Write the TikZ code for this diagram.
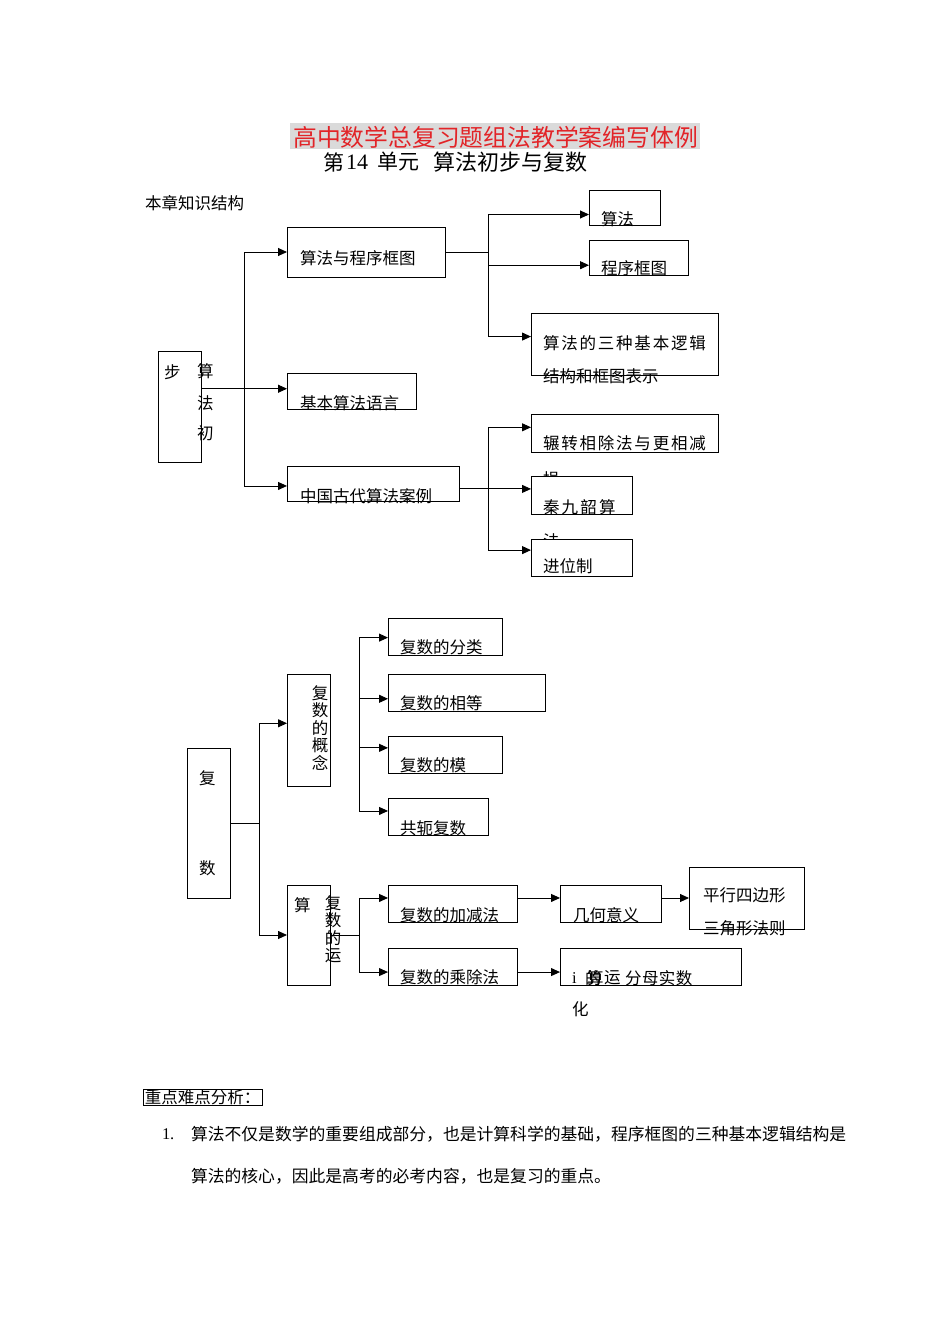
\documentclass[tikz,border=0pt]{standalone}
\usepackage{fontspec}
\setmainfont{Noto Sans CJK SC}
\newfontfamily\latf{Liberation Serif}
\usetikzlibrary{arrows.meta,calc}
\definecolor{titlered}{RGB}{226,36,40}
\definecolor{hlgray}{RGB}{218,218,218}
\newcommand\bodyf{\fontsize{16.5}{17.5}\selectfont}
\newcommand\ksp{\kern1.8pt\relax}
\newcommand\kspb{\kern2.2pt\relax}
\begin{document}
\begin{tikzpicture}[x=1pt,y=-1pt,
  bx/.style={draw=black,fill=white,line width=0.9pt,inner sep=0pt,outer sep=0pt,anchor=north west},
  tx/.style={inner sep=0pt,outer sep=0pt,anchor=west,font=\bodyf,text=black},
  vtx/.style={inner sep=0pt,outer sep=0pt,align=center,font=\fontsize{16.5}{17.5}\selectfont,text=black},
  ln/.style={line width=0.9pt,draw=black},
  arr/.style={line width=0.9pt,draw=black,-{Triangle[length=9pt,width=8pt]}}]
\fill[white] (0,0) rectangle (950,1344);
\useasboundingbox (0,0) rectangle (950,1344);

% ---------- title ----------
\node[fill=hlgray,minimum width=410pt,minimum height=26pt,inner sep=0pt,anchor=north west] (tbg) at (290,123) {};
\node[inner sep=0pt,anchor=west,font=\fontsize{23.8}{24}\selectfont,text=titlered] (title) at (293,137) {高中数学总复习题组法教学案编写体例};
\node[inner sep=0pt,anchor=west,font=\fontsize{21}{22}\selectfont] (s1) at (323,162) {第};
\node[inner sep=0pt,anchor=west,font=\fontsize{22}{22}\selectfont\latf] (s2) at (346,162) {14};
\node[inner sep=0pt,anchor=west,font=\fontsize{21}{22}\selectfont] (s3) at (377,162) {单元};
\node[inner sep=0pt,anchor=west,font=\fontsize{22}{22}\selectfont] (s4) at (433,162) {算法初步与复数};

\node[tx] (zs) at (145,203) {本章知识结构};

% ---------- top diagram: nodes ----------
\node[bx,minimum width=43pt,minimum height=111pt] (b1) at (158,351) {};
\node[bx,minimum width=158pt,minimum height=50pt] (b2) at (287,227) {};
\node[bx,minimum width=129pt,minimum height=36pt] (b3) at (287,373) {};
\node[bx,minimum width=172pt,minimum height=35pt] (b4) at (287,466) {};
\node[bx,minimum width=71pt,minimum height=35pt] (b5) at (589,190) {};
\node[bx,minimum width=99pt,minimum height=35pt] (b6) at (589,240) {};
\node[bx,minimum width=187pt,minimum height=62pt] (b7) at (531,313) {};

\coordinate (j1) at ($(b1.north east)!0.34!(b1.south east)$);
\coordinate (a4) at ($(b4.north west)!0.57!(b4.south west)$);
\coordinate (a5) at ($(b5.north west)!0.70!(b5.south west)$);
\coordinate (a6) at ($(b6.north west)!0.72!(b6.south west)$);
\coordinate (a7) at ($(b7.north west)!0.38!(b7.south west)$);
\coordinate (k1) at (244,0);
\coordinate (k2) at (488,0);

% text of top nodes
\node[tx] (t1a) at (164,372) {步};
\node[tx] (t1b) at (197,371) {算};
\node[tx] (t1c) at (197,403) {法};
\node[tx] (t1d) at (197,433) {初};
\node[tx] (t2) at (300,258) {算法与程序框图};
\node[tx] (t3) at (300,403) {基本算法语言};
\node[tx] (t4) at (300,496) {中国古代算法案例};
\node[tx] (t5) at (601,219) {算法};
\node[tx] (t6) at (601,268) {程序框图};
\node[tx] (t7a) at (543,343) {算\ksp 法\ksp 的\ksp 三\ksp 种\ksp 基\ksp 本\ksp 逻\ksp 辑};
\node[tx] (t7b) at (543,376) {结构和框图表示};

\node[bx,minimum width=187pt,minimum height=38pt] (b8) at (531,414) {};
\node[tx] (t8a) at (543,443) {辗\ksp 转\ksp 相\ksp 除\ksp 法\ksp 与\ksp 更\ksp 相\ksp 减};
\node[tx] (t8b) at (543,479) {损};
\node[bx,minimum width=101pt,minimum height=38pt] (b9) at (531,476) {};
\node[tx] (t9a) at (543,507) {秦\kspb 九\kspb 韶\kspb 算};
\node[tx] (t9b) at (543,541) {法};
\node[bx,minimum width=101pt,minimum height=37pt] (b10) at (531,539) {};
\node[tx] (t10) at (543,566) {进位制};

\coordinate (a8) at ($(b8.north west)!0.35!(b8.south west)$);
\coordinate (a9) at ($(b9.north west)!0.34!(b9.south west)$);
\coordinate (a10) at ($(b10.north west)!0.30!(b10.south west)$);

% ---------- top diagram: connectors ----------
\draw[arr] (j1) -- (j1 -| b3.west);
\draw[ln] (k1 |- b2.west) -- (k1 |- a4);
\draw[arr] (k1 |- b2.west) -- (b2.west);
\draw[arr] (k1 |- a4) -- (a4);
\draw[ln] (b2.east) -- (k2 |- b2.east);
\draw[ln] (k2 |- a5) -- (k2 |- a7);
\draw[arr] (k2 |- a5) -- (a5);
\draw[arr] (k2 |- a6) -- (a6);
\draw[arr] (k2 |- a7) -- (a7);
\draw[arr] (b4.east |- a9) -- (a9);
\draw[ln] (k2 |- a8) -- (k2 |- a10);
\draw[arr] (k2 |- a8) -- (a8);
\draw[arr] (k2 |- a10) -- (a10);

% ---------- bottom diagram: nodes ----------
\node[bx,minimum width=43pt,minimum height=150pt] (B1) at (187,748) {};
\node[bx,minimum width=43pt,minimum height=112pt] (B2) at (287,674) {};
\node[bx,minimum width=43pt,minimum height=100pt] (B3) at (287,885) {};
\node[bx,minimum width=114pt,minimum height=37pt] (B4) at (388,618) {};
\node[bx,minimum width=157pt,minimum height=37pt] (B5) at (388,674) {};
\node[bx,minimum width=114pt,minimum height=37pt] (B6) at (388,736) {};
\node[bx,minimum width=100pt,minimum height=37pt] (B7) at (388,798) {};
\node[bx,minimum width=129pt,minimum height=37pt] (B8) at (388,885) {};
\node[bx,minimum width=129pt,minimum height=37pt] (B9) at (388,948) {};
\node[bx,minimum width=101pt,minimum height=37pt] (B10) at (560,885) {};
\node[bx,minimum width=115pt,minimum height=62pt] (B11) at (689,867) {};
\node[bx,minimum width=181pt,minimum height=37pt] (B12) at (560,948) {};

\coordinate (A2) at ($(B2.north west)!0.44!(B2.south west)$);
\coordinate (A4) at ($(B4.north west)!0.53!(B4.south west)$);
\coordinate (A5) at ($(B5.north west)!0.67!(B5.south west)$);
\coordinate (A6) at ($(B6.north west)!0.32!(B6.south west)$);
\coordinate (A7) at ($(B7.north west)!0.35!(B7.south west)$);
\coordinate (A8) at ($(B8.north west)!0.35!(B8.south west)$);
\coordinate (A9) at ($(B9.north west)!0.65!(B9.south west)$);
\coordinate (A10) at ($(B10.north west)!0.35!(B10.south west)$);
\coordinate (A12) at ($(B12.north west)!0.65!(B12.south west)$);
\coordinate (k3) at (259,0);
\coordinate (k4) at (359,0);

% ---------- bottom diagram: connectors ----------
\draw[ln] (B1.east) -- (k3 |- B1.east);
\draw[ln] (k3 |- A2) -- (k3 |- B3.west);
\draw[arr] (k3 |- A2) -- (A2);
\draw[arr] (k3 |- B3.west) -- (B3.west);
\draw[ln] (k4 |- A4) -- (k4 |- A7);
\draw[arr] (k4 |- A4) -- (A4);
\draw[arr] (k4 |- A5) -- (A5);
\draw[arr] (k4 |- A6) -- (A6);
\draw[arr] (k4 |- A7) -- (A7);
\draw[ln] (B3.east) -- (k4 |- B3.east);
\draw[ln] (k4 |- A8) -- (k4 |- A9);
\draw[arr] (k4 |- A8) -- (A8);
\draw[arr] (k4 |- A9) -- (A9);
\draw[arr] (B8.east |- A10) -- (A10);
\draw[arr] (B10.east |- B11.west) -- (B11.west);
\draw[arr] (B9.east |- A12) -- (A12);

% ---------- bottom diagram: texts ----------
\node[tx] (T1a) at (199,778) {复};
\node[tx] (T1b) at (199,868) {数};
\node[vtx] (T2) at (320,728) {复\\数\\的\\概\\念};
\node[tx] (T3a) at (294,905) {算};
\node[vtx] (T3b) at (333,929.5) {复\\数\\的\\运};
\node[tx] (T4) at (400,647) {复数的分类};
\node[tx] (T5) at (400,703) {复数的相等};
\node[tx] (T6) at (400,765) {复数的模};
\node[tx] (T7) at (400,828) {共轭复数};
\node[tx] (T8) at (400,915) {复数的加减法};
\node[tx] (T9) at (400,977) {复数的乘除法};
\node[tx] (T10) at (573,915) {几何意义};
\node[tx] (T11a) at (703,895) {平行四边形};
\node[tx] (T11b) at (703,928) {三角形法则};
\node[tx,font=\fontsize{16.5}{17.5}\selectfont\latf] (T12a) at (572,978) {i};
\node[tx] (T12b) at (585,978) {的};
\node[tx] (T12c) at (587,978) {算};
\node[tx] (T12d) at (604,978) {运};
\node[tx] (T12e) at (625,978) {分\kern0.5pt 母\kern0.5pt 实\kern0.5pt 数};
\node[tx] (T12f) at (572,1009) {化};

% ---------- bottom text ----------
\node[draw=black,line width=0.8pt,inner xsep=1.5pt,inner ysep=0.3pt,anchor=west,font=\bodyf] (zd) at (143,1097) {重点难点分析：};
\node[tx,font=\fontsize{16.4}{17}\selectfont\latf] (n1) at (162,1134) {1.};
\node[tx,font=\fontsize{16.8}{17}\selectfont] (p1) at (191,1134) {算法不仅是数学的重要组成部分，也是计算科学的基础，程序框图的三种基本逻辑结构是};
\node[tx,font=\fontsize{16.8}{17}\selectfont] (p2) at (191,1176) {算法的核心，因此是高考的必考内容，也是复习的重点。};
\end{tikzpicture}
\end{document}
